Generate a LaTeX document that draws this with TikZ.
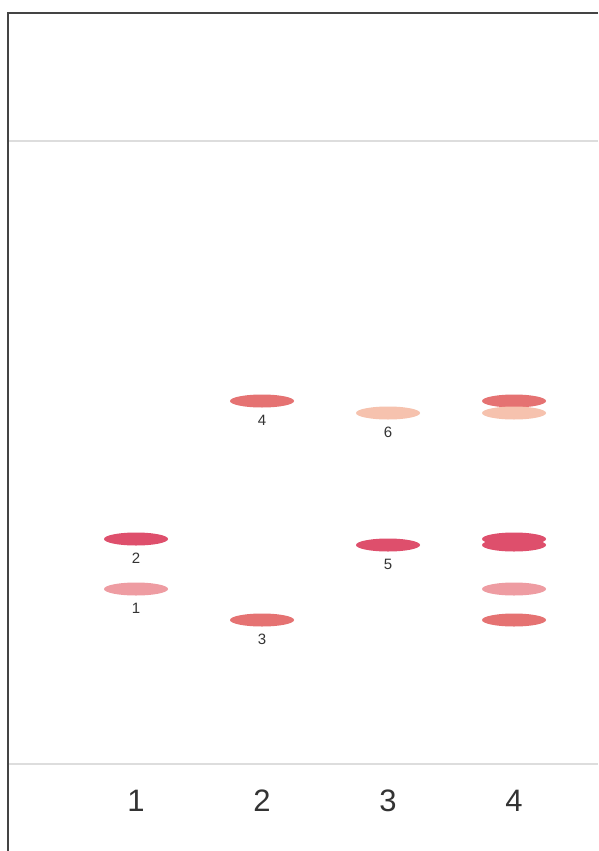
\documentclass[tikz,border=0pt]{standalone}
\usepackage{fontspec}
\setmainfont{Liberation Sans}
\usetikzlibrary{shapes.geometric,positioning}
\definecolor{spotrose}{HTML}{DE4F6C}
\definecolor{spotpink}{HTML}{EE9CA2}
\definecolor{spotsalmon}{HTML}{E57272}
\definecolor{spotpeach}{HTML}{F6C2AE}
\definecolor{framegray}{HTML}{444444}
\definecolor{linegray}{HTML}{DDDDDD}

\begin{document}
\begin{tikzpicture}[x=1pt,y=-1pt,
  spot/.style={ellipse,minimum width=64pt,minimum height=13pt,inner sep=0pt},
  spotlabel/.style={font=\fontsize{15}{18}\selectfont,inner sep=0pt,text=black!80},
  lanelabel/.style={font=\fontsize{31}{36}\selectfont,inner sep=0pt,text=black!80}]
  \useasboundingbox[fill=white] (0,0) rectangle (598,851);
  % plate frame, start and solvent lines
  \draw[linegray,line width=2pt] (8,141) -- (598,141);
  \draw[linegray,line width=2pt] (8,764) -- (598,764);
  \draw[framegray,line width=2pt] (598,13) -- (8,13) -- (8,851);
  % lane 1
  \node[spot,fill=spotrose] (s2) at (136,539) {};
  \node[spotlabel,below=7pt of s2] {2};
  \node[spot,fill=spotpink] (s1) at (136,589) {};
  \node[spotlabel,below=7pt of s1] {1};
  % lane 2
  \node[spot,fill=spotsalmon] (s4) at (262,401) {};
  \node[spotlabel,below=7pt of s4] {4};
  \node[spot,fill=spotsalmon] (s3) at (262,620) {};
  \node[spotlabel,below=7pt of s3] {3};
  % lane 3
  \node[spot,fill=spotpeach] (s6) at (388,413) {};
  \node[spotlabel,below=7pt of s6] {6};
  \node[spot,fill=spotrose] (s5) at (388,545) {};
  \node[spotlabel,below=7pt of s5] {5};
  % lane 4, the mixture
  \node[spot,fill=spotsalmon] (m4) at (514,401) {};
  \node[spot,fill=spotpeach] (m6) at (514,413) {};
  \node[spot,fill=spotrose] (m2) at (514,539) {};
  \node[spot,fill=spotrose] (m5) at (514,545) {};
  \node[spot,fill=spotpink] (m1) at (514,589) {};
  \node[spot,fill=spotsalmon] (m3) at (514,620) {};
  % lane numbers
  \foreach \n/\x in {1/136,2/262,3/388,4/514}
    \node[lanelabel] (lane\n) at (\x,801) {\n};
\end{tikzpicture}
\end{document}
